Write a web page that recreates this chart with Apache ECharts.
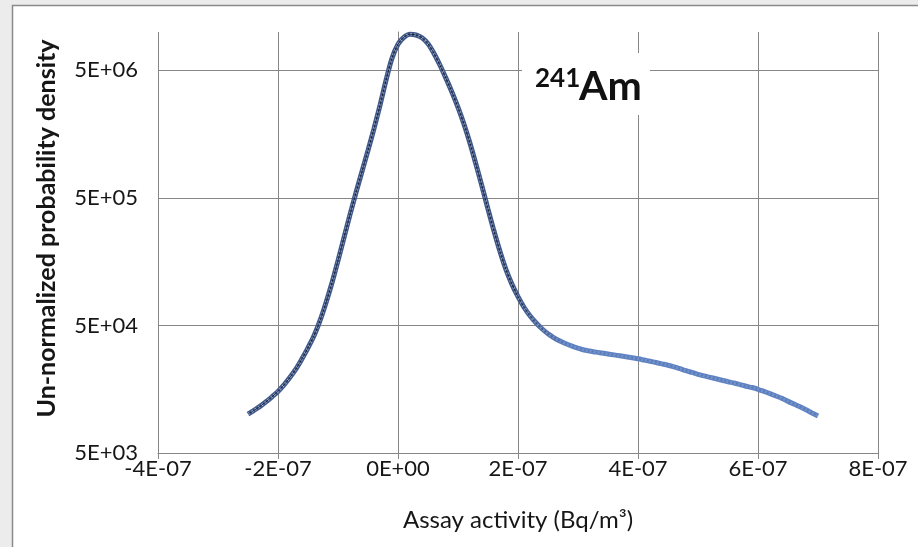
<!DOCTYPE html>
<html>
<head>
<meta charset="utf-8">
<script src="https://cdn.jsdelivr.net/npm/echarts@6/dist/echarts.min.js"></script>
<style>
  html, body { margin: 0; padding: 0; background: #ececec; }
  #chart { width: 918px; height: 547px; }
</style>
</head>
<body>
<div id="chart"></div>
<script>
// Assay activity (Bq/m³) at each evaluated point
const activity = [
  -2.5e-7, -2.4e-7, -2.3e-7, -2.2e-7, -2.1e-7, -2.0e-7, -1.9e-7, -1.8e-7, -1.7e-7, -1.6e-7,
  -1.5e-7, -1.4e-7, -1.3e-7, -1.2e-7, -1.1e-7, -1.0e-7, -9e-8, -8e-8, -7e-8, -6e-8,
  -5e-8, -4e-8, -3e-8, -2e-8, -1e-8, 0, 1e-8, 2e-8, 3e-8, 4e-8,
  5e-8, 6e-8, 7e-8, 8e-8, 9e-8, 1.0e-7, 1.1e-7, 1.2e-7, 1.3e-7, 1.4e-7,
  1.5e-7, 1.6e-7, 1.7e-7, 1.8e-7, 1.9e-7, 2.0e-7, 2.1e-7, 2.2e-7, 2.3e-7, 2.4e-7,
  2.5e-7, 2.6e-7, 2.7e-7, 2.8e-7, 2.9e-7, 3.0e-7, 3.1e-7, 3.2e-7, 3.3e-7, 3.4e-7,
  3.5e-7, 3.6e-7, 3.7e-7, 3.8e-7, 3.9e-7, 4.0e-7, 4.1e-7, 4.2e-7, 4.3e-7, 4.4e-7,
  4.5e-7, 4.6e-7, 4.7e-7, 4.8e-7, 4.9e-7, 5.0e-7, 5.1e-7, 5.2e-7, 5.3e-7, 5.4e-7,
  5.5e-7, 5.6e-7, 5.7e-7, 5.8e-7, 5.9e-7, 6.0e-7, 6.1e-7, 6.2e-7, 6.3e-7, 6.4e-7,
  6.5e-7, 6.6e-7, 6.7e-7, 6.8e-7, 6.9e-7, 7.0e-7
];

// Un-normalized probability density at each activity value
const density = [
  10100, 10800, 11600, 12600, 13800, 15200, 17100, 19600, 22800, 27400,
  33400, 41500, 54500, 75400, 108000, 161000, 244000, 370000, 551000, 806000,
  1180000, 1750000, 2660000, 4180000, 6220000, 8020000, 9100000, 9600000, 9470000, 9000000,
  8080000, 6790000, 5490000, 4330000, 3370000, 2560000, 1890000, 1340000, 915000, 615000,
  409000, 275000, 190000, 137000, 105000, 84100, 69500, 59600, 52500, 47100,
  43000, 40000, 37700, 35900, 34400, 33200, 32100, 31500, 30900, 30400,
  29900, 29400, 28900, 28400, 27900, 27400, 26800, 26200, 25600, 25000,
  24400, 23700, 22900, 22100, 21400, 20700, 20100, 19600, 19100, 18600,
  18100, 17700, 17200, 16700, 16300, 15800, 15200, 14600, 14000, 13400,
  12700, 12100, 11500, 10900, 10300, 9740
];

// Axis ticks
const xTicks = [-4e-7, -2e-7, 0, 2e-7, 4e-7, 6e-7, 8e-7];
const yTicks = [5000, 50000, 500000, 5000000];

const points = activity.map((x, i) => [x, density[i]]);

// Scientific label in the 5E+06 / -4E-07 / 0E+00 style
function sci(v) {
  if (Math.abs(v) < 1e-15) return '0E+00';
  let e = Math.floor(Math.log10(Math.abs(v)) + 1e-9);
  let m = Math.round(v / Math.pow(10, e));
  if (Math.abs(m) >= 10) { m = m / 10; e += 1; }
  const sign = e < 0 ? '-' : '+';
  const ee = String(Math.abs(e)).padStart(2, '0');
  return m + 'E' + sign + ee;
}

const FONT = 'Lato';
const GRID_COLOR = '#878787';
const TEXT_COLOR = '#161616';

// Horizontal colour ramp along the trace: darker on the peak, lighter on the tail
function ramp(a, b) {
  return {
    type: 'linear', x: 0, y: 0, x2: 1, y2: 0,
    colorStops: [
      { offset: 0, color: a },
      { offset: 0.47, color: a },
      { offset: 0.56, color: b },
      { offset: 1, color: b }
    ]
  };
}

const chart = echarts.init(document.getElementById('chart'), null, { renderer: 'canvas' });

chart.setOption({
  backgroundColor: '#ececec',
  animation: false,
  grid: { left: 158, right: 40, top: 32, bottom: 94, containLabel: false },
  xAxis: {
    type: 'value',
    min: xTicks[0],
    max: xTicks[xTicks.length - 1],
    interval: 2e-7,
    name: 'Assay activity (Bq/m³)',
    nameLocation: 'middle',
    nameGap: 55,
    nameTextStyle: { fontFamily: FONT, fontSize: 24, color: TEXT_COLOR },
    axisLine: { show: true, onZero: false, lineStyle: { color: GRID_COLOR, width: 1 } },
    axisTick: { show: true, inside: false, length: 6, lineStyle: { color: GRID_COLOR } },
    axisLabel: { margin: 5, fontFamily: FONT, fontSize: 22, color: TEXT_COLOR, formatter: sci },
    splitLine: { show: true, lineStyle: { color: GRID_COLOR, width: 1 } }
  },
  yAxis: {
    type: 'log',
    logBase: 10,
    min: 5000,
    max: 1e7,
    name: 'Un-normalized probability density',
    nameLocation: 'middle',
    nameGap: 99,
    nameTextStyle: { fontFamily: FONT, fontSize: 25, fontWeight: 'bold', color: TEXT_COLOR, padding: [0, 0, 0, 28] },
    axisLine: { show: true, lineStyle: { color: GRID_COLOR, width: 1 } },
    axisTick: { show: true, inside: false, length: 6, customValues: yTicks, lineStyle: { color: GRID_COLOR } },
    axisLabel: { margin: 20, fontFamily: FONT, fontSize: 22, color: TEXT_COLOR, customValues: yTicks, formatter: sci },
    splitLine: { show: true, lineStyle: { color: GRID_COLOR, width: 1 } },
    minorSplitLine: { show: false }
  },
  graphic: [
    {
      type: 'rect', z: -10, silent: true,
      shape: { x: 12.5, y: 5.5, width: 940, height: 580 },
      style: { fill: '#ffffff', stroke: '#8a8a8a', lineWidth: 1.5 }
    },
    {
      type: 'rect', z: 100, silent: true,
      shape: { x: 522, y: 53, width: 128, height: 62 },
      style: { fill: '#ffffff' }
    },
    {
      type: 'text', z: 101, silent: true, x: 535, y: 79,
      style: { text: '241', fontFamily: FONT, fontSize: 26, fontWeight: 'bold', fill: '#111', verticalAlign: 'middle', align: 'left' }
    },
    {
      type: 'text', z: 101, silent: true, x: 579, y: 87,
      style: { text: 'Am', fontFamily: FONT, fontSize: 41, fontWeight: 'bold', fill: '#111', verticalAlign: 'middle', align: 'left' }
    }
  ],
  series: [
    {
      name: 'Measured',
      type: 'line',
      data: points,
      showSymbol: false,
      smooth: 0.3,
      z: 3,
      lineStyle: { width: 5, color: ramp('#40588a', '#5f82c2') }
    },
    {
      name: 'Measured points',
      type: 'line',
      data: points,
      showSymbol: false,
      smooth: 0.3,
      z: 4,
      lineStyle: { width: 2, type: [2, 2], color: ramp('rgba(205,218,240,0.85)', 'rgba(150,178,225,0.55)') }
    },
    {
      name: 'Fit',
      type: 'line',
      data: points,
      showSymbol: false,
      smooth: 0.3,
      z: 5,
      lineStyle: { width: 1, color: ramp('rgba(15,22,40,0.85)', 'rgba(40,60,110,0.15)') }
    }
  ]
});
</script>
</body>
</html>
